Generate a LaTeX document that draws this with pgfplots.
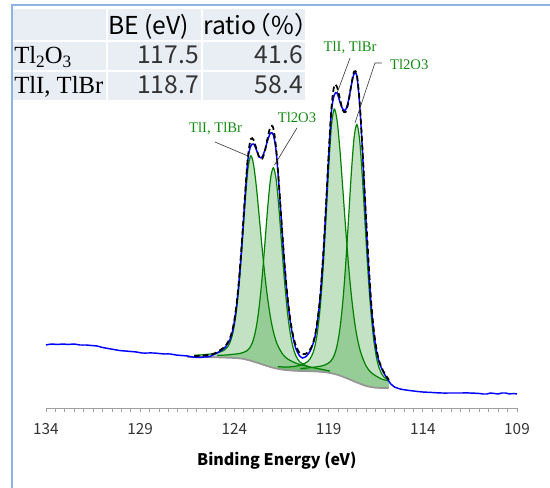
\documentclass[border=0pt]{standalone}
\usepackage{fontspec}
\setmainfont{Liberation Serif}
\newfontfamily\cjk{Noto Sans CJK JP}
\usepackage{pgfplots}
\pgfplotsset{compat=1.18}

\definecolor{spec}{RGB}{0,0,255}
\definecolor{comp}{RGB}{0,128,0}
\definecolor{compfill}{RGB}{15,139,15}
\definecolor{bgline}{RGB}{150,150,150}
\definecolor{tbl}{RGB}{233,237,244}
\definecolor{framecol}{RGB}{141,180,226}
\definecolor{lbl}{RGB}{20,140,20}

\begin{document}
\begin{tikzpicture}
\begin{axis}[
    at={(34.5pt,60pt)}, anchor=south west,
    scale only axis,
    width=353.25pt, height=296.25pt,
    xmin=109, xmax=134, x dir=reverse,
    ymin=0, ymax=395,
    clip=false,
    axis x line*=bottom,
    axis y line=none,
    axis line style={-, draw=gray!75, line width=0.7pt},
    xtick={109,114,...,134},
    minor x tick num=9,
    tick align=outside,
    major tick length=3pt, minor tick length=3pt,
    tick style={gray!75, line width=0.6pt},
    /pgf/number format/assume math mode=true,
    xticklabel style={font=\cjk\fontsize{11.5}{12}\selectfont, text=black!80, yshift=-5pt},
    xlabel={Binding Energy (eV)},
    xlabel style={font=\cjk\bfseries\fontsize{12}{14}\selectfont,
                  at={(axis description cs:0.49,0)}, anchor=center, yshift=-39.5pt},
  ]
  % areas of the four components, down to the background
  \addplot[fill=compfill, fill opacity=0.25, draw=none] coordinates {
    (126.13,52.7) (125.63,53.3) (125.13,54.3) (124.83,55.5) (124.53,58.0) (124.33,62.0)
    (124.18,68.2) (124.03,79.7) (123.88,98.9) (123.73,127.6) (123.58,165.0) (123.43,205.7)
    (123.28,239.1) (123.13,252.2) (122.98,243.1) (122.83,220.5) (122.68,190.9) (122.53,160.2)
    (122.38,132.2) (122.23,108.7) (122.08,90.1) (121.93,76.3) (121.73,63.9) (121.43,53.6)
    (121.13,48.5) (120.63,44.1) (120.13,41.8)
    (120.13,36.85) (120.5,37) (121.0,37.5) (121.5,38.5) (122.0,40.5) (122.5,43.5)
    (123.0,46.5) (123.5,49) (124.0,50) (124.5,50.4) (125.0,50.7) (125.5,50.9) (126.0,51) (126.13,51)
  } --cycle;
  \addplot[fill=compfill, fill opacity=0.25, draw=none] coordinates {
    (124.93,52.6) (124.43,53.0) (123.93,54.0) (123.63,54.9) (123.33,57.3) (123.13,61.9)
    (122.98,69.1) (122.83,81.8) (122.68,101.8) (122.53,130.1) (122.38,164.7) (122.23,200.8)
    (122.08,229.4) (121.93,240.2) (121.78,228.0) (121.63,197.9) (121.48,160.4) (121.33,124.6)
    (121.18,95.1) (121.03,73.9) (120.88,60.1) (120.73,51.9) (120.53,46.1) (120.23,42.5)
    (119.93,40.8) (119.43,38.9) (118.93,36.9)
    (118.93,34.98) (119.0,35.3) (119.5,36.3) (120.0,36.8) (120.5,37) (121.0,37.5) (121.5,38.5)
    (122.0,40.5) (122.5,43.5) (123.0,46.5) (123.5,49) (124.0,50) (124.5,50.4) (124.93,50.66)
  } --cycle;
  \addplot[fill=compfill, fill opacity=0.25, draw=none] coordinates {
    (121.7,41.4) (121.2,40.9) (120.7,41.9) (120.4,43.4) (120.1,46.6) (119.9,51.9)
    (119.75,60.0) (119.6,74.8) (119.45,99.6) (119.3,136.9) (119.15,185.3) (119.0,238.3)
    (118.85,281.8) (118.7,298.9) (118.55,287.5) (118.4,258.5) (118.25,220.4) (118.1,180.9)
    (117.95,144.7) (117.8,114.2) (117.65,90.2) (117.5,72.1) (117.3,55.8) (117.0,41.7)
    (116.7,34.8) (116.2,29.1) (115.8,27.1)
    (115.8,20.2) (116.0,20) (116.5,20.3) (117.0,22) (117.5,25.5) (118.0,29.5) (118.5,33)
    (119.0,35.3) (119.5,36.3) (120.0,36.8) (120.5,37) (121.0,37.5) (121.5,38.5) (121.7,39.3)
  } --cycle;
  \addplot[fill=compfill, fill opacity=0.25, draw=none] coordinates {
    (120.5,39.4) (120.0,40.3) (119.5,41.6) (119.2,43.0) (118.9,46.5) (118.7,52.8)
    (118.55,62.5) (118.4,79.1) (118.25,105.1) (118.1,141.6) (117.95,186.4) (117.8,232.9)
    (117.65,269.7) (117.5,283.5) (117.35,267.5) (117.2,228.4) (117.05,179.7) (116.9,133.1)
    (116.75,95.0) (116.6,67.4) (116.45,49.6) (116.3,39.1) (116.1,31.8) (115.8,27.5)
    (115.8,20.2) (116.0,20) (116.5,20.3) (117.0,22) (117.5,25.5) (118.0,29.5) (118.5,33)
    (119.0,35.3) (119.5,36.3) (120.0,36.8) (120.5,37)
  } --cycle;
  % background (Shirley)
  \addplot[smooth, draw=bgline, line width=1.3pt] coordinates {
    (126.5,51) (126.0,51) (125.5,50.9) (125.0,50.7) (124.5,50.4) (124.0,50)
    (123.5,49) (123.0,46.5) (122.5,43.5) (122.0,40.5) (121.5,38.5) (121.0,37.5)
    (120.5,37) (120.0,36.8) (119.5,36.3) (119.0,35.3) (118.5,33) (118.0,29.5)
    (117.5,25.5) (117.0,22) (116.5,20.3) (116.0,20) (115.8,20.2)
  };
  % TlI, TlBr 4f5/2
  \addplot[smooth, draw=comp, line width=0.9pt] coordinates {
    (126.13,52.7) (125.63,53.3) (125.13,54.3) (124.83,55.5) (124.53,58.0) (124.33,62.0)
    (124.18,68.2) (124.03,79.7) (123.88,98.9) (123.73,127.6) (123.58,165.0) (123.43,205.7)
    (123.28,239.1) (123.13,252.2) (122.98,243.1) (122.83,220.5) (122.68,190.9) (122.53,160.2)
    (122.38,132.2) (122.23,108.7) (122.08,90.1) (121.93,76.3) (121.73,63.9) (121.43,53.6)
    (121.13,48.5) (120.63,44.1) (120.13,41.8)
  };
  % Tl2O3 4f5/2
  \addplot[smooth, draw=comp, line width=0.9pt] coordinates {
    (124.93,52.6) (124.43,53.0) (123.93,54.0) (123.63,54.9) (123.33,57.3) (123.13,61.9)
    (122.98,69.1) (122.83,81.8) (122.68,101.8) (122.53,130.1) (122.38,164.7) (122.23,200.8)
    (122.08,229.4) (121.93,240.2) (121.78,228.0) (121.63,197.9) (121.48,160.4) (121.33,124.6)
    (121.18,95.1) (121.03,73.9) (120.88,60.1) (120.73,51.9) (120.53,46.1) (120.23,42.5)
    (119.93,40.8) (119.43,38.9) (118.93,36.9)
  };
  % TlI, TlBr 4f7/2
  \addplot[smooth, draw=comp, line width=0.9pt] coordinates {
    (121.7,41.4) (121.2,40.9) (120.7,41.9) (120.4,43.4) (120.1,46.6) (119.9,51.9)
    (119.75,60.0) (119.6,74.8) (119.45,99.6) (119.3,136.9) (119.15,185.3) (119.0,238.3)
    (118.85,281.8) (118.7,298.9) (118.55,287.5) (118.4,258.5) (118.25,220.4) (118.1,180.9)
    (117.95,144.7) (117.8,114.2) (117.65,90.2) (117.5,72.1) (117.3,55.8) (117.0,41.7)
    (116.7,34.8) (116.2,29.1) (115.8,27.1)
  };
  % Tl2O3 4f7/2
  \addplot[smooth, draw=comp, line width=0.9pt] coordinates {
    (120.5,39.4) (120.0,40.3) (119.5,41.6) (119.2,43.0) (118.9,46.5) (118.7,52.8)
    (118.55,62.5) (118.4,79.1) (118.25,105.1) (118.1,141.6) (117.95,186.4) (117.8,232.9)
    (117.65,269.7) (117.5,283.5) (117.35,267.5) (117.2,228.4) (117.05,179.7) (116.9,133.1)
    (116.75,95.0) (116.6,67.4) (116.45,49.6) (116.3,39.1) (116.1,31.8) (115.8,27.5)
  };
  % measured spectrum
  \addplot[smooth, draw=spec, line width=1.1pt] coordinates {
    (134.0,63) (133.7,64) (133.4,63.5) (133.1,64) (132.8,63.5) (132.5,64) (132.2,63)
    (131.9,63) (131.6,62.5) (131.3,62) (131.0,60.5) (130.7,59.5) (130.4,58.5) (130.1,57.5)
    (129.8,57) (129.5,56.5) (129.2,56) (128.9,55) (128.6,55) (128.3,55) (128.0,54.5)
    (127.7,54) (127.4,54) (127.1,53) (126.8,52.5) (126.5,52) (126.2,51) (125.9,50.5)
    (125.6,51) (125.3,51.5) (125.13,53) (124.83,56) (124.53,60) (124.33,65) (124.18,71)
    (124.03,83) (123.88,103) (123.73,132) (123.58,170) (123.43,212) (123.28,249)
    (123.13,262) (122.98,264) (122.83,258) (122.68,251) (122.53,251) (122.38,258)
    (122.23,268) (122.08,275) (121.93,273) (121.78,256) (121.63,221) (121.48,180)
    (121.33,141) (121.18,109) (121.03,86) (120.88,70) (120.73,59) (120.53,52) (120.38,50)
    (120.23,51) (120.08,54) (119.93,59) (119.75,69) (119.6,85) (119.45,110) (119.3,148)
    (119.15,197) (119.0,250) (118.85,296) (118.7,313) (118.55,315) (118.4,306) (118.25,299)
    (118.1,298) (117.95,307) (117.8,322) (117.65,334) (117.5,332) (117.35,303) (117.2,256)
    (117.05,200) (116.9,148) (116.75,105) (116.6,75) (116.45,56) (116.3,45) (116.1,36)
    (115.9,30) (115.7,24) (115.5,21) (115.2,19) (114.9,18) (114.5,17) (114.0,16)
    (113.5,15.5) (113.0,15) (112.5,15) (112.0,15) (111.5,15) (111.0,14.5) (110.8,14)
    (110.6,14) (110.4,15) (110.2,14.5) (110.0,14) (109.8,15) (109.6,15) (109.4,14)
    (109.2,14.5) (109.0,14)
  };
  % fit envelope
  \addplot[smooth, draw=black, line width=1.3pt, dash pattern=on 4pt off 2.5pt] coordinates {
    (126.13,52) (125.63,52.5) (125.13,54) (124.83,57) (124.53,61) (124.33,66.3)
    (124.18,72.9) (124.03,84.9) (123.88,104.6) (123.73,134.2) (123.58,172.7) (123.43,214.9)
    (123.28,251.5) (123.13,268.9) (122.98,268.0) (122.83,259.1) (122.68,250.6) (122.53,249.2)
    (122.38,256.9) (122.23,270.5) (122.08,281.6) (121.93,279.5) (121.78,258.5) (121.63,222.8)
    (121.48,181.1) (121.33,142.6) (121.18,111.3) (121.03,88) (120.88,72) (120.73,62)
    (120.53,55) (120.23,54) (119.93,60) (119.75,70) (119.6,86.4) (119.45,111.2)
    (119.3,149.0) (119.15,198.3) (119.0,252.6) (118.85,299.9) (118.7,322.2) (118.55,321.0)
    (118.4,309.3) (118.25,297.9) (118.1,295.9) (117.95,305.5) (117.8,322.5) (117.65,336.3)
    (117.5,333.1) (117.35,305.6) (117.2,258.9) (117.05,203.9) (116.9,153.5) (116.75,108)
    (116.6,78) (116.45,58) (116.3,46) (116.1,37) (115.8,28)
  };
  % peak labels
  \draw[black!75, line width=0.5pt] (axis cs:125.03,266) -- (axis cs:123.28,252);
  \node[text=lbl, font=\fontsize{11}{12}\selectfont] at (axis cs:125.0,279) {TlI, TlBr};
  \draw[black!75, line width=0.5pt] (axis cs:120.68,280) -- (axis cs:121.87,243);
  \node[text=lbl, font=\fontsize{11}{12}\selectfont] at (axis cs:120.68,291) {Tl2O3};
  \draw[black!75, line width=0.5pt] (axis cs:117.86,350) -- (axis cs:118.55,315);
  \node[text=lbl, font=\fontsize{11}{12}\selectfont] at (axis cs:117.86,360) {TlI, TlBr};
  \draw[black!75, line width=0.5pt] (axis cs:116.17,345) -- (axis cs:116.54,345) -- (axis cs:117.60,285);
  \node[text=lbl, font=\fontsize{11}{12}\selectfont, anchor=west, inner sep=0pt] at (axis cs:115.75,344) {Tl2O3};
\end{axis}

% frame and result table, in pixel units from the top left corner
\begin{scope}[x=0.75pt, y=-0.75pt, yshift=366pt]
  \draw[framecol, line width=1.5pt] (12,490) -- (12,5) -- (552,5);
  \foreach \xa/\xb in {13/106, 108/201, 203/305} {
    \foreach \ya/\yb in {9/40, 42/70, 72/100} {
      \fill[tbl] (\xa,\ya) rectangle (\xb,\yb);
    }
  }
  \node[anchor=base west, inner sep=0pt, font=\cjk\fontsize{18.5}{20}\selectfont] at (108,35) {BE (eV)};
  \node[anchor=base west, inner sep=0pt, font=\cjk\fontsize{18.5}{20}\selectfont] at (203,35) {ratio\kern-0.4em（\%）};
  \node[anchor=base west, inner sep=0pt, font=\fontsize{18.5}{20}\selectfont] at (14,64)
    {Tl\raisebox{-0.3ex}{\fontsize{13}{13}\selectfont 2}O\raisebox{-0.3ex}{\fontsize{13}{13}\selectfont 3}};
  \node[anchor=base west, inner sep=0pt, font=\fontsize{18.5}{20}\selectfont] at (14,94) {TlI, TlBr};
  \node[anchor=base east, inner sep=0pt, text=black!80, font=\cjk\fontsize{18.5}{20}\selectfont] at (199,64) {117.5};
  \node[anchor=base east, inner sep=0pt, text=black!80, font=\cjk\fontsize{18.5}{20}\selectfont] at (303,64) {41.6};
  \node[anchor=base east, inner sep=0pt, text=black!80, font=\cjk\fontsize{18.5}{20}\selectfont] at (199,94) {118.7};
  \node[anchor=base east, inner sep=0pt, text=black!80, font=\cjk\fontsize{18.5}{20}\selectfont] at (303,94) {58.4};
\end{scope}
\pgfresetboundingbox
\useasboundingbox (0,0) rectangle (412.5pt,366pt);
\end{tikzpicture}
\end{document}
